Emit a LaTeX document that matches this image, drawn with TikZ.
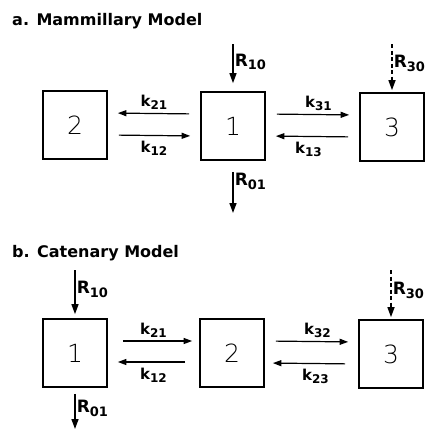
\documentclass[tikz,border=0pt]{standalone}
\usepackage{fontspec}
\setmainfont{DejaVu Sans}
\newfontfamily\thinfont{DejaVu Sans ExtraLight}
\usetikzlibrary{arrows.meta}
\newcommand{\lowidx}[2]{\raisebox{-0.4ex}{\fontsize{#1}{#1}\selectfont #2}}

\begin{document}
\begin{tikzpicture}[x=1pt,y=-1pt,
  comp/.style={draw, line width=1.7pt, minimum width=64pt, minimum height=68pt, inner sep=0pt, font=\thinfont\fontsize{25}{25}\selectfont},
  flow/.style={-{Triangle[length=8.5pt,width=6pt]}, line width=1.2pt, shorten <=11pt, shorten >=10pt},
  rate/.style={font=\bfseries\fontsize{15}{15}\selectfont, inner sep=1pt},
  inlbl/.style={font=\bfseries\fontsize{17}{17}\selectfont, inner sep=1pt, anchor=west},
  input/.style={-{Triangle[length=10pt,width=7pt]}, line width=1.5pt},
  title/.style={anchor=base west, font=\bfseries\fontsize{16}{16}\selectfont, inner sep=0pt}]
\useasboundingbox (0,0) rectangle (429,429);

% a. Mammillary Model
\node[title] (titlea) at (12,25) {a. Mammillary Model};
\node[comp] (a2) at (75,125) {2};
\node[comp] (a1) at (233,126) {1};
\node[comp] (a3) at (392,127) {3};
\draw[flow] ([yshift=12pt]a1.west) -- node[rate,above=2pt] {k\lowidx{12}{21}} ([yshift=12pt]a2.east);
\draw[flow] ([yshift=-10pt]a2.east) -- node[rate,below=4pt] {k\lowidx{12}{12}} ([yshift=-10pt]a1.west);
\draw[flow] ([yshift=12pt]a1.east) -- node[rate,above=2pt,xshift=6pt] {k\lowidx{12}{31}} ([yshift=12pt]a3.west);
\draw[flow] ([yshift=-10pt]a3.west) -- node[rate,below=4pt,xshift=-4pt] {k\lowidx{12}{13}} ([yshift=-10pt]a1.east);

% inputs and output of a
\coordinate (a10) at (233,44);
\coordinate (a30) at (392,44);
\coordinate (a01) at (233,213);
\draw[input, shorten >=8pt] (a10) -- node[inlbl, pos=0.38] {R\lowidx{13}{10}} (a1.north);
\draw[input, dash pattern=on 4pt off 2.5pt, shorten >=2pt] (a30) -- node[inlbl, pos=0.4] {R\lowidx{13}{30}} (a3.north);
\draw[input, shorten <=11pt] (a1.south) -- node[inlbl, pos=0.4] {R\lowidx{13}{01}} (a01);

% b. Catenary Model
\node[title] (titleb) at (12,257) {b. Catenary Model};
\node[comp] (b1) at (75,353) {1};
\node[comp] (b2) at (232,353) {2};
\node[comp] (b3) at (391,354) {3};
\draw[flow, shorten <=15pt, shorten >=7pt] ([yshift=12pt]b1.east) -- node[rate,above=2pt] {k\lowidx{12}{21}} ([yshift=12pt]b2.west);
\draw[flow, shorten <=14pt] ([yshift=-9pt]b2.west) -- node[rate,below=4pt] {k\lowidx{12}{12}} ([yshift=-9pt]b1.east);
\draw[flow] ([yshift=12pt]b2.east) -- node[rate,above=2pt,xshift=6pt] {k\lowidx{12}{32}} ([yshift=12pt]b3.west);
\draw[flow, shorten <=13pt, shorten >=8pt] ([yshift=-10pt]b3.west) -- node[rate,below=4pt,xshift=4pt] {k\lowidx{12}{23}} ([yshift=-10pt]b2.east);

% inputs and output of b
\coordinate (b10) at (75,270);
\coordinate (b30) at (391,270);
\coordinate (b01) at (75,429);
\draw[input, shorten >=4pt] (b10) -- node[inlbl, pos=0.4] {R\lowidx{13}{10}} (b1.north);
\draw[input, dash pattern=on 4pt off 2.5pt, shorten >=2pt] (b30) -- node[inlbl, pos=0.42] {R\lowidx{13}{30}} (b3.north);
\draw[input, shorten <=6pt] (b1.south) -- node[inlbl, pos=0.5] {R\lowidx{13}{01}} (b01);
\end{tikzpicture}
\end{document}
